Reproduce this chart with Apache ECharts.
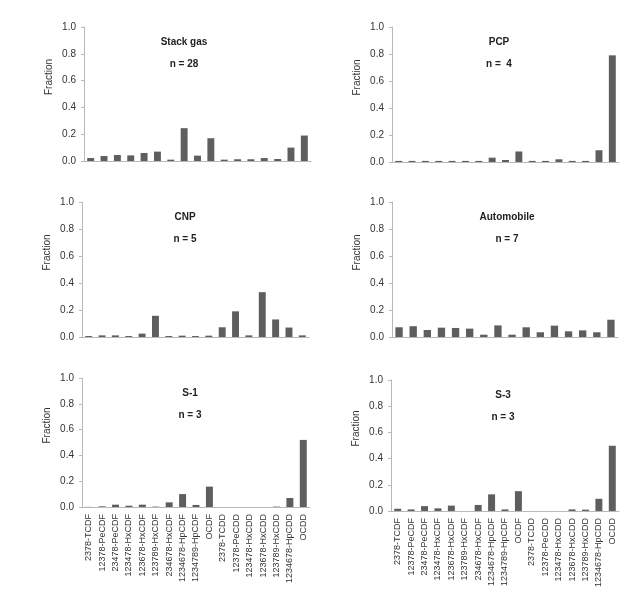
<!DOCTYPE html>
<html>
<head>
<meta charset="utf-8">
<script src="https://cdn.jsdelivr.net/npm/echarts@6/dist/echarts.min.js"></script>
<style>
  html, body { margin: 0; padding: 0; background: #fff; }
  #main { width: 640px; height: 590px; }
</style>
</head>
<body>
<div id="main"></div>
<script>
var myChart = echarts.init(document.getElementById('main'));

// congeners (x axis)
var categories = ['2378-TCDF', '12378-PeCDF', '23478-PeCDF', '123478-HxCDF', '123678-HxCDF',
    '123789-HxCDF', '234678-HxCDF', '1234678-HpCDF', '1234789-HpCDF', 'OCDF',
    '2378-TCDD', '12378-PeCDD', '123478-HxCDD', '123678-HxCDD', '123789-HxCDD',
    '1234678-HpCDD', 'OCDD'];

var panelNames = ['Stack gas', 'PCP', 'CNP', 'Automobile', 'S-1', 'S-3'];
var panelN = ['n = 28', 'n =  4', 'n = 5', 'n = 7', 'n = 3', 'n = 3'];

var stackGas = [0.022, 0.037, 0.045, 0.042, 0.06, 0.07, 0.01, 0.245, 0.04, 0.17, 0.01, 0.013, 0.013, 0.022, 0.015, 0.10, 0.19];
var pcp = [0.008, 0.008, 0.008, 0.008, 0.008, 0.008, 0.008, 0.032, 0.015, 0.078, 0.008, 0.008, 0.02, 0.008, 0.008, 0.087, 0.79];
var cnp = [0.007, 0.012, 0.012, 0.007, 0.025, 0.157, 0.007, 0.01, 0.007, 0.01, 0.072, 0.19, 0.012, 0.332, 0.13, 0.07, 0.012];
// only 16 bars in the automobile panel
var automobile = [0.072, 0.08, 0.052, 0.069, 0.067, 0.062, 0.017, 0.086, 0.017, 0.072, 0.035, 0.084, 0.042, 0.049, 0.035, 0.128];
var s1 = [0.001, 0.005, 0.018, 0.01, 0.018, 0.003, 0.036, 0.10, 0.016, 0.158, 0, 0, 0, 0, 0.003, 0.07, 0.52];
var s3 = [0.017, 0.012, 0.037, 0.02, 0.041, 0, 0.046, 0.127, 0.012, 0.151, 0, 0, 0, 0.012, 0.01, 0.093, 0.498];

var yTicks = [0, 0.2, 0.4, 0.6, 0.8, 1.0];

var panelData = [stackGas, pcp, cnp, automobile, s1, s3];

// grid boxes (left, top, width, height) and title centre x
var boxes = [
    [84, 27, 227, 134, 184],
    [392, 27, 227, 135, 499],
    [82, 202, 227, 135, 185],
    [392, 202, 226, 135, 507],
    [82, 378, 228, 129, 190],
    [391, 380, 228, 136, 503]
];

var font = 'Liberation Sans, Arial, sans-serif';
var grids = [], xAxes = [], yAxes = [], series = [], texts = [];

boxes.forEach(function (b, i) {
    var showLabels = i >= 4;
    var cats = categories.slice(0, panelData[i].length);
    grids.push({left: b[0], top: b[1], width: b[2], height: b[3]});
    xAxes.push({
        type: 'category',
        gridIndex: i,
        data: cats,
        axisLine: {lineStyle: {color: '#b8b8b8', width: 1}},
        axisTick: {show: false},
        axisLabel: {
            show: showLabels,
            rotate: 90,
            interval: 0,
            margin: 7,
            fontSize: 9,
            fontFamily: font,
            color: '#333'
        }
    });
    yAxes.push({
        type: 'value',
        gridIndex: i,
        min: yTicks[0],
        max: yTicks[yTicks.length - 1],
        interval: 0.2,
        name: 'Fraction',
        nameLocation: 'middle',
        nameGap: 30,
        nameRotate: 90,
        nameTextStyle: {fontSize: 10, fontFamily: font, color: '#333', padding: [0, 0, 0, 34]},
        axisLine: {show: true, lineStyle: {color: '#b8b8b8', width: 1}},
        axisTick: {show: true, length: 3, lineStyle: {color: '#b8b8b8'}},
        splitLine: {show: false},
        axisLabel: {
            fontSize: 10,
            fontFamily: font,
            color: '#333',
            margin: 8,
            formatter: function (v) { return v.toFixed(1); }
        }
    });
    series.push({
        type: 'bar',
        xAxisIndex: i,
        yAxisIndex: i,
        data: panelData[i],
        barWidth: '52%',
        itemStyle: {color: '#5e5e5e'}
    });
    [panelNames[i], panelN[i]].forEach(function (t, k) {
        texts.push({
            type: 'text',
            x: b[4],
            y: b[1] + (k === 0 ? 15 : 37),
            style: {
                text: t,
                textAlign: 'center',
                textVerticalAlign: 'middle',
                font: 'bold 10px ' + font,
                fill: '#222'
            }
        });
    });
});

var option = {
    animation: false,
    grid: grids,
    xAxis: xAxes,
    yAxis: yAxes,
    series: series,
    graphic: texts
};

myChart.setOption(option);
</script>
</body>
</html>
